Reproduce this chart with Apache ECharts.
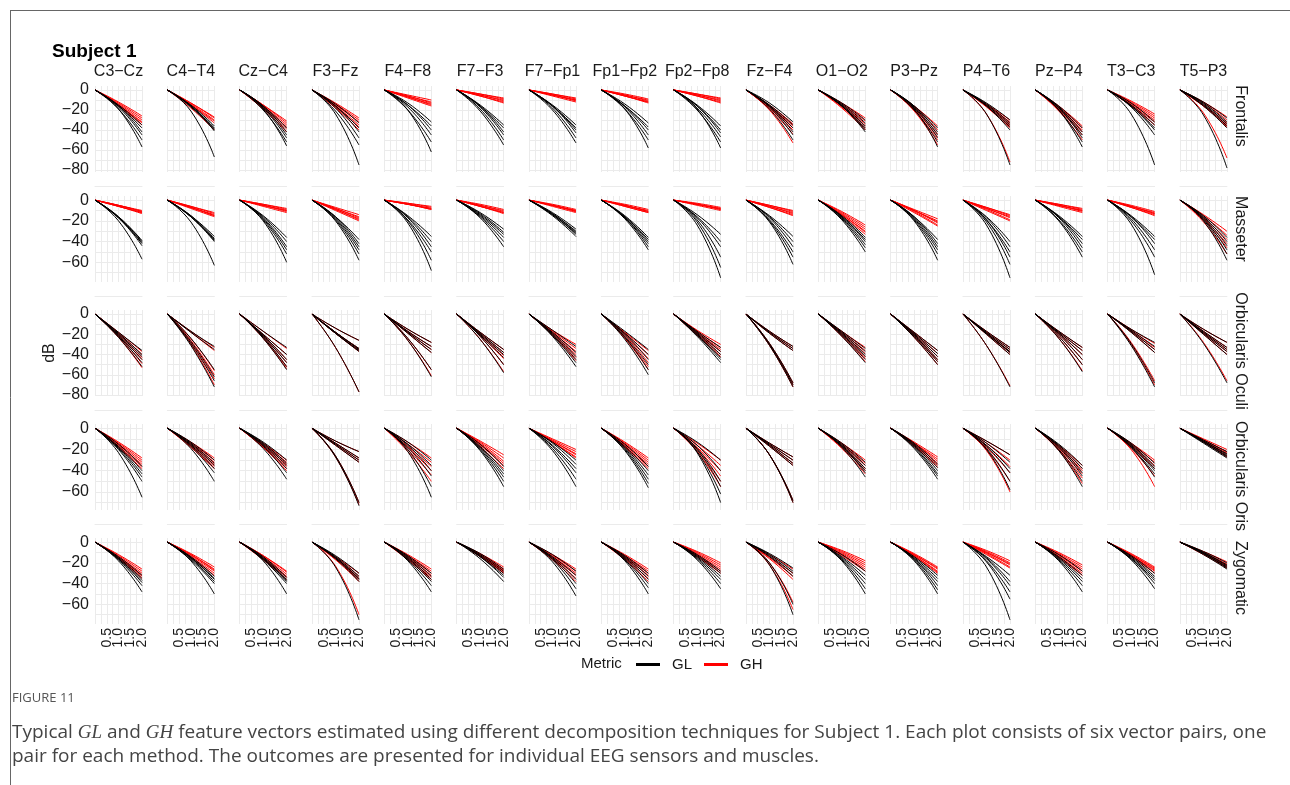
<!DOCTYPE html>
<html>
<head>
<meta charset="utf-8">
<script src="https://cdn.jsdelivr.net/npm/echarts@6/dist/echarts.min.js"></script>
<style>
  html, body { margin: 0; padding: 0; background: #ffffff; }
  #chart { width: 1290px; height: 785px; }
</style>
</head>
<body>
<div id="chart"></div>
<script>
// EEG channel pairs (columns) and muscles (rows)
const channels = ['C3\u2212Cz', 'C4\u2212T4', 'Cz\u2212C4', 'F3\u2212Fz', 'F4\u2212F8', 'F7\u2212F3', 'F7\u2212Fp1', 'Fp1\u2212Fp2',
  'Fp2\u2212Fp8', 'Fz\u2212F4', 'O1\u2212O2', 'P3\u2212Pz', 'P4\u2212T6', 'Pz\u2212P4', 'T3\u2212C3', 'T5\u2212P3'];
const muscles = ['Frontalis', 'Masseter', 'Orbicularis Oculi', 'Orbicularis Oris', 'Zygomatic'];
const metrics = ['GL', 'GH'];

// x positions of the stored samples; every vector starts at 0 dB
const xSamples = [0, 1, 2];
const dbAtStart = 0;
const xTickLabels = ['0.5', '1.0', '1.5', '2.0'];
const yTickValues = [0, -20, -40, -60, -80];
// y extent of each muscle row (free scales per row)
const yExtent = [[-82, 4], [-79, 4], [-81, 4], [-77, 4], [-79, 4]];

// Each channel: six vectors (one per method), given as [dB at x=1, dB at x=2]
const frontalisGL = [
  [[-15,-35],[-16,-38],[-16,-42],[-17,-45],[-19,-50],[-19,-57]],
  [[-15,-36],[-16,-38],[-16,-39],[-17,-40],[-16,-41],[-21,-67]],
  [[-16,-38],[-16,-42],[-17,-45],[-18,-48],[-20,-52],[-19,-56]],
  [[-14,-33],[-16,-38],[-16,-42],[-18,-48],[-21,-55],[-24,-75]],
  [[-13,-32],[-15,-36],[-15,-40],[-17,-45],[-20,-52],[-20,-62]],
  [[-15,-35],[-16,-38],[-16,-42],[-17,-45],[-19,-50],[-21,-55]],
  [[-15,-35],[-16,-38],[-16,-40],[-16,-43],[-18,-48],[-20,-53]],
  [[-14,-33],[-16,-37],[-16,-40],[-17,-45],[-19,-50],[-19,-58]],
  [[-15,-36],[-16,-40],[-16,-43],[-18,-47],[-20,-52],[-19,-58]],
  [[-13,-32],[-15,-35],[-16,-38],[-16,-42],[-17,-45],[-19,-50]],
  [[-13,-30],[-14,-33],[-15,-36],[-16,-38],[-16,-40],[-16,-42]],
  [[-16,-38],[-16,-42],[-17,-45],[-18,-48],[-20,-52],[-19,-57]],
  [[-13,-30],[-14,-33],[-15,-35],[-16,-37],[-16,-40],[-24,-75]],
  [[-16,-38],[-17,-42],[-18,-45],[-18,-48],[-20,-52],[-20,-57]],
  [[-13,-32],[-15,-35],[-16,-38],[-16,-40],[-17,-45],[-24,-75]],
  [[-12,-28],[-13,-32],[-14,-34],[-15,-36],[-16,-38],[-25,-78]]
];
const frontalisGH = [
  [[-12,-26],[-13,-28],[-14,-30],[-15,-32],[-15,-33],[-16,-35]],
  [[-13,-27],[-13,-28],[-14,-30],[-15,-31],[-15,-33],[-18,-40]],
  [[-15,-31],[-15,-33],[-16,-35],[-17,-37],[-18,-39],[-19,-42]],
  [[-13,-28],[-14,-30],[-15,-32],[-16,-35],[-17,-37],[-18,-40]],
  [[-5,-10],[-6,-12],[-6,-13],[-7,-14],[-7,-15],[-8,-16]],
  [[-4,-8],[-4,-9],[-5,-10],[-5,-11],[-6,-12],[-6,-13]],
  [[-4,-8],[-4,-9],[-5,-10],[-5,-10],[-5,-11],[-6,-12]],
  [[-4,-9],[-5,-10],[-5,-11],[-6,-12],[-6,-12],[-6,-13]],
  [[-4,-8],[-4,-9],[-5,-10],[-5,-11],[-6,-12],[-6,-13]],
  [[-15,-34],[-16,-36],[-17,-38],[-18,-40],[-19,-44],[-20,-53]],
  [[-13,-28],[-14,-31],[-15,-34],[-16,-36],[-17,-38],[-18,-40]],
  [[-16,-36],[-17,-40],[-18,-44],[-19,-47],[-20,-50],[-21,-55]],
  [[-14,-30],[-15,-32],[-15,-34],[-16,-36],[-17,-38],[-24,-72]],
  [[-16,-36],[-17,-38],[-18,-40],[-19,-42],[-20,-45],[-21,-50]],
  [[-11,-24],[-12,-26],[-13,-28],[-14,-30],[-15,-32],[-16,-35]],
  [[-12,-27],[-13,-30],[-15,-33],[-16,-35],[-16,-37],[-23,-68]]
];
const masseterGL = [
  [[-16,-39],[-16,-40],[-17,-41],[-17,-42],[-17,-44],[-20,-57]],
  [[-15,-35],[-15,-37],[-16,-38],[-16,-39],[-16,-40],[-21,-63]],
  [[-15,-36],[-16,-40],[-17,-45],[-18,-48],[-19,-52],[-20,-60]],
  [[-16,-38],[-16,-42],[-17,-45],[-18,-48],[-19,-52],[-20,-58]],
  [[-15,-35],[-16,-40],[-17,-45],[-19,-50],[-20,-58],[-22,-68]],
  [[-12,-28],[-13,-31],[-14,-33],[-15,-36],[-16,-40],[-17,-45]],
  [[-12,-28],[-13,-30],[-13,-31],[-14,-32],[-14,-33],[-15,-35]],
  [[-15,-36],[-16,-38],[-16,-40],[-17,-42],[-17,-45],[-18,-48]],
  [[-14,-33],[-16,-40],[-17,-45],[-19,-55],[-21,-65],[-24,-75]],
  [[-15,-35],[-16,-40],[-17,-45],[-19,-50],[-20,-55],[-21,-62]],
  [[-15,-36],[-16,-38],[-16,-40],[-17,-43],[-18,-46],[-19,-50]],
  [[-16,-38],[-16,-42],[-17,-45],[-18,-48],[-19,-52],[-20,-58]],
  [[-16,-40],[-17,-45],[-19,-50],[-19,-55],[-21,-62],[-24,-75]],
  [[-15,-35],[-16,-38],[-16,-42],[-17,-46],[-19,-50],[-20,-55]],
  [[-15,-35],[-16,-38],[-16,-42],[-18,-48],[-20,-55],[-23,-72]],
  [[-15,-36],[-16,-40],[-17,-44],[-18,-48],[-19,-52],[-20,-58]]
];
const masseterGH = [
  [[-5,-10],[-5,-11],[-5,-11],[-6,-12],[-6,-12],[-6,-13]],
  [[-6,-12],[-6,-13],[-7,-14],[-7,-15],[-7,-15],[-8,-16]],
  [[-4,-8],[-4,-9],[-5,-10],[-5,-10],[-5,-11],[-6,-12]],
  [[-7,-14],[-8,-16],[-8,-17],[-9,-18],[-9,-19],[-10,-20]],
  [[-3,-6],[-3,-7],[-4,-8],[-4,-8],[-4,-9],[-4,-9]],
  [[-4,-9],[-5,-10],[-5,-11],[-6,-12],[-6,-12],[-6,-13]],
  [[-4,-9],[-5,-10],[-5,-10],[-5,-11],[-5,-11],[-6,-12]],
  [[-4,-9],[-5,-10],[-5,-11],[-5,-11],[-6,-12],[-6,-12]],
  [[-3,-7],[-4,-8],[-4,-8],[-4,-9],[-4,-9],[-5,-10]],
  [[-5,-10],[-5,-11],[-6,-12],[-6,-13],[-7,-14],[-7,-15]],
  [[-11,-24],[-12,-26],[-13,-28],[-14,-30],[-14,-31],[-15,-33]],
  [[-9,-18],[-10,-20],[-10,-21],[-10,-22],[-11,-24],[-12,-25]],
  [[-7,-14],[-7,-15],[-8,-16],[-8,-17],[-9,-19],[-10,-20]],
  [[-4,-8],[-4,-9],[-5,-10],[-5,-10],[-5,-11],[-6,-12]],
  [[-5,-11],[-6,-12],[-6,-13],[-6,-13],[-7,-14],[-7,-15]],
  [[-14,-30],[-15,-34],[-17,-38],[-18,-42],[-19,-46],[-21,-52]]
];
const oculiGL = [
  [[-18,-36],[-19,-40],[-20,-42],[-21,-45],[-22,-48],[-23,-52]],
  [[-17,-32],[-18,-35],[-24,-55],[-27,-62],[-29,-66],[-31,-72]],
  [[-17,-33],[-20,-40],[-21,-45],[-22,-48],[-23,-52],[-24,-55]],
  [[-14,-26],[-18,-34],[-18,-35],[-19,-36],[-19,-37],[-33,-77]],
  [[-15,-28],[-17,-32],[-18,-35],[-19,-38],[-24,-55],[-26,-62]],
  [[-18,-35],[-19,-38],[-20,-40],[-21,-43],[-22,-50],[-25,-58]],
  [[-16,-32],[-18,-38],[-19,-42],[-20,-45],[-21,-48],[-22,-52]],
  [[-17,-35],[-19,-40],[-20,-45],[-22,-50],[-23,-55],[-25,-60]],
  [[-17,-33],[-18,-37],[-19,-40],[-20,-43],[-21,-45],[-22,-48]],
  [[-17,-32],[-18,-34],[-19,-36],[-29,-68],[-30,-70],[-31,-72]],
  [[-17,-34],[-18,-37],[-19,-40],[-20,-42],[-21,-45],[-22,-48]],
  [[-18,-36],[-19,-39],[-20,-42],[-21,-45],[-22,-47],[-23,-50]],
  [[-17,-33],[-18,-35],[-19,-37],[-19,-38],[-20,-40],[-31,-72]],
  [[-17,-33],[-18,-36],[-19,-40],[-20,-45],[-22,-50],[-24,-57]],
  [[-15,-28],[-16,-32],[-17,-35],[-18,-38],[-29,-68],[-31,-72]],
  [[-15,-28],[-17,-33],[-18,-35],[-19,-37],[-20,-40],[-29,-68]]
];
const oculiGH = [
  [[-18,-37],[-19,-40],[-20,-43],[-21,-45],[-22,-49],[-23,-53]],
  [[-17,-33],[-18,-36],[-24,-56],[-26,-60],[-28,-64],[-30,-70]],
  [[-17,-34],[-20,-40],[-21,-45],[-22,-48],[-23,-52],[-24,-54]],
  [[-14,-26],[-18,-34],[-18,-35],[-19,-36],[-19,-37],[-33,-77]],
  [[-15,-28],[-17,-32],[-18,-35],[-19,-38],[-24,-55],[-26,-61]],
  [[-18,-35],[-19,-38],[-20,-41],[-21,-44],[-22,-50],[-25,-57]],
  [[-16,-30],[-17,-34],[-18,-37],[-19,-40],[-20,-43],[-21,-46]],
  [[-18,-36],[-19,-40],[-20,-44],[-21,-48],[-23,-52],[-24,-55]],
  [[-16,-30],[-17,-33],[-18,-35],[-19,-37],[-20,-40],[-21,-42]],
  [[-17,-32],[-18,-34],[-19,-36],[-29,-68],[-30,-70],[-31,-72]],
  [[-17,-33],[-18,-36],[-19,-39],[-20,-42],[-21,-44],[-22,-47]],
  [[-18,-36],[-19,-39],[-20,-42],[-21,-45],[-22,-47],[-23,-50]],
  [[-17,-33],[-18,-35],[-19,-37],[-19,-38],[-20,-40],[-31,-71]],
  [[-17,-33],[-18,-36],[-19,-40],[-20,-45],[-22,-50],[-24,-56]],
  [[-15,-29],[-16,-33],[-17,-35],[-18,-38],[-28,-66],[-30,-70]],
  [[-15,-28],[-17,-33],[-18,-35],[-19,-37],[-20,-40],[-28,-66]]
];
const orisGL = [
  [[-15,-36],[-17,-40],[-18,-43],[-19,-46],[-20,-50],[-23,-65]],
  [[-13,-30],[-14,-33],[-15,-35],[-16,-38],[-17,-42],[-19,-50]],
  [[-13,-30],[-14,-33],[-15,-35],[-16,-38],[-17,-42],[-19,-48]],
  [[-12,-22],[-14,-28],[-15,-30],[-16,-32],[-26,-70],[-27,-73]],
  [[-13,-30],[-15,-35],[-16,-40],[-18,-45],[-20,-55],[-22,-65]],
  [[-15,-36],[-17,-40],[-18,-43],[-19,-46],[-20,-50],[-21,-55]],
  [[-13,-30],[-14,-34],[-16,-38],[-17,-42],[-19,-48],[-21,-55]],
  [[-15,-36],[-17,-40],[-18,-44],[-19,-48],[-20,-52],[-21,-56]],
  [[-13,-30],[-16,-40],[-19,-50],[-20,-55],[-22,-62],[-23,-70]],
  [[-14,-27],[-15,-30],[-16,-33],[-17,-35],[-25,-68],[-25,-70]],
  [[-14,-32],[-15,-35],[-16,-38],[-17,-40],[-17,-42],[-18,-46]],
  [[-14,-34],[-15,-37],[-16,-40],[-17,-43],[-18,-45],[-19,-48]],
  [[-12,-25],[-14,-32],[-16,-38],[-17,-42],[-19,-50],[-20,-58]],
  [[-15,-35],[-16,-38],[-17,-42],[-18,-45],[-20,-50],[-21,-55]],
  [[-14,-33],[-15,-36],[-16,-38],[-17,-40],[-18,-43],[-18,-46]],
  [[-11,-22],[-12,-24],[-12,-25],[-13,-26],[-13,-27],[-14,-28]]
];
const orisGH = [
  [[-13,-28],[-14,-30],[-15,-32],[-16,-34],[-17,-36],[-18,-38]],
  [[-13,-28],[-14,-30],[-15,-32],[-16,-34],[-17,-36],[-18,-38]],
  [[-14,-30],[-15,-32],[-16,-34],[-17,-36],[-18,-38],[-18,-40]],
  [[-12,-22],[-14,-28],[-15,-30],[-16,-32],[-26,-70],[-27,-72]],
  [[-13,-28],[-15,-32],[-17,-36],[-18,-40],[-20,-44],[-22,-50]],
  [[-12,-25],[-13,-28],[-14,-31],[-15,-33],[-16,-35],[-18,-38]],
  [[-10,-20],[-11,-22],[-12,-24],[-12,-25],[-13,-27],[-13,-28]],
  [[-13,-28],[-14,-30],[-15,-32],[-16,-34],[-17,-36],[-18,-38]],
  [[-14,-30],[-16,-35],[-18,-40],[-19,-45],[-21,-50],[-22,-55]],
  [[-14,-27],[-15,-30],[-16,-33],[-17,-35],[-25,-68],[-25,-70]],
  [[-14,-30],[-15,-33],[-16,-35],[-17,-38],[-18,-40],[-19,-43]],
  [[-13,-27],[-14,-29],[-14,-31],[-15,-33],[-16,-35],[-17,-37]],
  [[-12,-25],[-14,-30],[-16,-36],[-18,-42],[-20,-50],[-21,-60]],
  [[-16,-35],[-17,-38],[-18,-40],[-19,-43],[-20,-47],[-21,-52]],
  [[-14,-30],[-15,-32],[-16,-35],[-17,-38],[-19,-45],[-20,-55]],
  [[-10,-20],[-11,-22],[-11,-23],[-12,-24],[-12,-26],[-13,-27]]
];
const zygomaticGL = [
  [[-14,-32],[-15,-35],[-16,-37],[-16,-39],[-17,-42],[-18,-48]],
  [[-14,-33],[-15,-35],[-15,-36],[-16,-38],[-17,-40],[-18,-50]],
  [[-14,-34],[-15,-36],[-16,-37],[-16,-38],[-17,-40],[-18,-50]],
  [[-13,-30],[-14,-33],[-15,-35],[-15,-36],[-16,-38],[-24,-75]],
  [[-13,-30],[-14,-33],[-15,-36],[-16,-38],[-17,-42],[-18,-48]],
  [[-11,-26],[-12,-28],[-13,-30],[-14,-32],[-14,-34],[-16,-38]],
  [[-12,-28],[-14,-32],[-15,-36],[-16,-40],[-17,-45],[-19,-52]],
  [[-13,-30],[-14,-33],[-15,-36],[-16,-40],[-17,-44],[-18,-50]],
  [[-12,-28],[-13,-30],[-14,-33],[-15,-36],[-16,-40],[-17,-45]],
  [[-11,-25],[-12,-28],[-13,-30],[-14,-33],[-20,-60],[-22,-70]],
  [[-12,-28],[-14,-32],[-15,-36],[-16,-40],[-17,-45],[-18,-50]],
  [[-14,-32],[-15,-35],[-16,-38],[-16,-42],[-17,-46],[-18,-50]],
  [[-14,-32],[-15,-38],[-16,-42],[-18,-48],[-19,-55],[-24,-75]],
  [[-12,-28],[-14,-32],[-15,-35],[-16,-38],[-17,-42],[-18,-48]],
  [[-13,-30],[-14,-33],[-15,-35],[-16,-37],[-16,-40],[-17,-45]],
  [[-9,-20],[-10,-22],[-10,-23],[-11,-24],[-11,-25],[-12,-26]]
];
const zygomaticGH = [
  [[-12,-26],[-13,-28],[-14,-30],[-15,-32],[-15,-33],[-16,-35]],
  [[-11,-24],[-12,-26],[-12,-27],[-13,-28],[-14,-30],[-15,-32]],
  [[-13,-28],[-13,-29],[-14,-31],[-15,-33],[-16,-34],[-17,-36]],
  [[-14,-30],[-15,-33],[-16,-35],[-16,-36],[-17,-38],[-23,-70]],
  [[-12,-26],[-13,-28],[-14,-30],[-15,-32],[-16,-34],[-17,-36]],
  [[-11,-24],[-12,-26],[-12,-27],[-13,-28],[-13,-29],[-14,-30]],
  [[-12,-26],[-13,-28],[-14,-30],[-15,-32],[-16,-35],[-17,-38]],
  [[-12,-26],[-13,-28],[-14,-30],[-15,-32],[-16,-35],[-17,-38]],
  [[-9,-20],[-10,-22],[-11,-24],[-12,-26],[-13,-28],[-14,-30]],
  [[-12,-26],[-14,-30],[-15,-33],[-16,-36],[-20,-58],[-22,-65]],
  [[-8,-18],[-9,-20],[-10,-22],[-11,-24],[-12,-26],[-13,-28]],
  [[-11,-24],[-12,-25],[-12,-26],[-13,-28],[-13,-29],[-14,-30]],
  [[-8,-18],[-9,-20],[-10,-21],[-10,-22],[-11,-24],[-12,-25]],
  [[-10,-22],[-11,-24],[-12,-26],[-13,-28],[-14,-30],[-15,-32]],
  [[-11,-24],[-12,-25],[-12,-26],[-13,-27],[-13,-28],[-14,-30]],
  [[-9,-19],[-10,-21],[-10,-22],[-11,-23],[-11,-24],[-12,-25]]
];

const glByMuscle = [frontalisGL, masseterGL, oculiGL, orisGL, zygomaticGL];
const ghByMuscle = [frontalisGH, masseterGH, oculiGH, orisGH, zygomaticGH];

// ---- layout ----
const FONT = '"Liberation Sans", Arial, Helvetica, sans-serif';
const colLeft0 = 95, colStep = 72.33, panelW = 47;
const rowTops = [86, 196, 310, 424, 538], panelH = 86;
const stripCenters = [116, 229, 351, 476, 578];
const gridColor = '#ebebeb';
const metricColor = { GL: '#000000', GH: '#ff0000' };

const grids = [], xAxes = [], yAxes = [], series = [];
const fmtY = v => yTickValues.includes(v) ? (v < 0 ? '\u2212' + (-v) : String(v)) : '';
const fmtX = v => {
  const s = v.toFixed(1);
  return xTickLabels.includes(s) ? s : '';
};

muscles.forEach((muscle, r) => {
  channels.forEach((ch, c) => {
    const idx = r * channels.length + c;
    grids.push({ left: colLeft0 + c * colStep, top: rowTops[r], width: panelW, height: panelH });
    xAxes.push({
      type: 'value', gridIndex: idx, min: 0, max: 2, interval: 0.25,
      offset: r < muscles.length - 1 ? 14 : 0,
      axisLine: { show: r < muscles.length - 1, onZero: false, lineStyle: { color: gridColor, width: 1 } },
      axisTick: { show: false },
      splitLine: { show: true, lineStyle: { color: gridColor, width: 1 } },
      axisLabel: {
        show: r === muscles.length - 1, rotate: 90, margin: 4, formatter: fmtX,
        fontFamily: FONT, fontSize: 14, color: '#1a1a1a'
      }
    });
    yAxes.push({
      type: 'value', gridIndex: idx, min: yExtent[r][0], max: yExtent[r][1],
      minInterval: 10, maxInterval: 10, splitNumber: 8,
      axisLine: { show: false }, axisTick: { show: false },
      splitLine: { show: true, showMinLine: false, showMaxLine: false, lineStyle: { color: gridColor, width: 1 } },
      axisLabel: { show: c === 0, formatter: fmtY, margin: 6, fontFamily: FONT, fontSize: 16, color: '#1a1a1a' },
      name: (c === 0 && r === 2) ? 'dB' : '',
      nameLocation: 'middle', nameGap: 34, nameRotate: 90,
      nameTextStyle: { fontFamily: FONT, fontSize: 16, color: '#1a1a1a' }
    });
    // GH drawn first so GL sits on top where the pairs coincide
    [['GH', ghByMuscle[r][c]], ['GL', glByMuscle[r][c]]].forEach(([metric, curves]) => {
      curves.forEach(([mid, end]) => {
        series.push({
          type: 'line', name: metric, xAxisIndex: idx, yAxisIndex: idx,
          data: [[xSamples[0], dbAtStart], [xSamples[1], mid], [xSamples[2], end]],
          smooth: 0.5, showSymbol: false, symbol: 'none', silent: true,
          itemStyle: { color: metricColor[metric] },
          lineStyle: { color: metricColor[metric], width: 1 },
          emphasis: { disabled: true },
          z: metric === 'GL' ? 3 : 2
        });
      });
    });
  });
});

// ---- text and frame ----
const graphics = [];
graphics.push({ type: 'line', shape: { x1: 10, y1: 10.5, x2: 1290, y2: 10.5 }, style: { stroke: '#666', lineWidth: 1 } });
graphics.push({ type: 'line', shape: { x1: 10.5, y1: 10, x2: 10.5, y2: 785 }, style: { stroke: '#666', lineWidth: 1 } });
graphics.push({ type: 'text', x: 52, y: 52, style: { text: 'Subject 1', font: 'bold 19px ' + FONT, fill: '#000', verticalAlign: 'middle' } });
channels.forEach((ch, c) => {
  graphics.push({ type: 'text', x: colLeft0 + c * colStep + panelW / 2, y: 72,
    style: { text: ch, font: '16px ' + FONT, fill: '#1a1a1a', align: 'center', verticalAlign: 'middle' } });
});
muscles.forEach((m, r) => {
  graphics.push({ type: 'text', x: 1240, y: stripCenters[r], rotation: -Math.PI / 2,
    style: { text: m, font: '16px ' + FONT, fill: '#1a1a1a', align: 'center', verticalAlign: 'middle' } });
});
graphics.push({ type: 'text', x: 581, y: 664, style: { text: 'Metric', font: '15px ' + FONT, fill: '#1a1a1a', verticalAlign: 'middle' } });
graphics.push({ type: 'text', x: 12, y: 698, style: { text: 'FIGURE 11', font: '13px "Open Sans", sans-serif', fill: '#555', verticalAlign: 'middle' } });
const captionRich = { i: { fontFamily: '"Liberation Serif", serif', fontStyle: 'italic', fontSize: 19, fill: '#444' } };
graphics.push({ type: 'text', x: 12, y: 733, style: {
  text: 'Typical {i|GL} and {i|GH} feature vectors estimated using different decomposition techniques for Subject 1. Each plot consists of six vector pairs, one',
  rich: captionRich, font: '19px "Open Sans", sans-serif', fill: '#444', verticalAlign: 'middle' } });
graphics.push({ type: 'text', x: 12, y: 757, style: {
  text: 'pair for each method. The outcomes are presented for individual EEG sensors and muscles.',
  font: '19px "Open Sans", sans-serif', fill: '#444', verticalAlign: 'middle' } });

const chart = echarts.init(document.getElementById('chart'), null, { renderer: 'canvas' });
chart.setOption({
  backgroundColor: '#ffffff',
  animation: false,
  grid: grids,
  xAxis: xAxes,
  yAxis: yAxes,
  series: series,
  legend: {
    data: metrics, left: 631, top: 652, icon: 'rect', itemWidth: 24, itemHeight: 3, itemGap: 12,
    selectedMode: false,
    textStyle: { fontFamily: FONT, fontSize: 15, color: '#1a1a1a', padding: [0, 0, 0, 7] }
  },
  graphic: graphics
});
</script>
</body>
</html>
